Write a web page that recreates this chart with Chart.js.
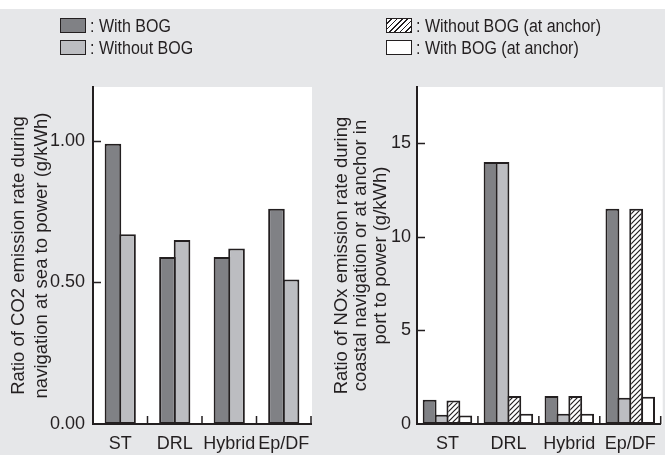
<!DOCTYPE html>
<html>
<head>
<meta charset="utf-8">
<script src="https://cdn.jsdelivr.net/npm/chart.js@4.4.1/dist/chart.umd.min.js"></script>
<style>
  html, body { margin: 0; padding: 0; background: #ffffff; }
  #page { position: relative; width: 665px; height: 455px; overflow: hidden; background: #ffffff; }
  #bg { position: absolute; left: 0; top: 9px; width: 665px; height: 446px; background: #e6e7e9; }
  canvas { position: absolute; top: 0; }
  .lg { position: absolute; font-family: "Liberation Sans", Arial, sans-serif; font-size: 16px; color: #231f20; line-height: 16px; white-space: nowrap; transform: scaleY(1.15); transform-origin: left center; }
  .box { position: absolute; width: 24px; height: 13px; border: 1.5px solid #231f20; }
</style>
</head>
<body>
<div id="page">
  <div id="bg"></div>
  <canvas id="c1" width="335" height="455" style="left:0px;width:335px;height:455px"></canvas>
  <canvas id="c2" width="350" height="455" style="left:315px;width:350px;height:455px"></canvas>
  <div id="legend"></div>
</div>
<script>
// ---- data ----
const categories = ['ST', 'DRL', 'Hybrid', 'Ep/DF'];
const co2WithBOG = [0.99, 0.59, 0.59, 0.76];
const co2WithoutBOG = [0.67, 0.65, 0.62, 0.51];
const noxWithBOG = [1.3, 14.0, 1.5, 11.5];
const noxWithoutBOG = [0.5, 14.0, 0.55, 1.4];
const noxWithoutBOGAnchor = [1.25, 1.5, 1.5, 11.5];
const noxWithBOGAnchor = [0.45, 0.55, 0.55, 1.45];
const co2Ticks = [0, 0.5, 1.0];
const noxTicks = [0, 5, 10, 15];
const co2Max = 1.19;
const noxMax = 18;
const legendLabels = [': With BOG', ': Without BOG', ': Without BOG (at anchor)', ': With BOG (at anchor)'];

// ---- styles ----
const DARK = '#808185';
const LIGHT = '#bcbdc1';
const INK = '#231f20';
const FONT = '"Liberation Sans", Arial, sans-serif';

function hatchPattern() {
  const s = 5;
  const c = document.createElement('canvas');
  c.width = s; c.height = s;
  const g = c.getContext('2d');
  g.fillStyle = '#ffffff';
  g.fillRect(0, 0, s, s);
  g.strokeStyle = INK;
  g.lineWidth = 1.2;
  g.beginPath();
  g.moveTo(-1, s + 1); g.lineTo(s + 1, -1);
  g.moveTo(-1, 1); g.lineTo(1, -1);
  g.moveTo(s - 1, s + 1); g.lineTo(s + 1, s - 1);
  g.stroke();
  return g.createPattern(c, 'repeat');
}
const HATCH = hatchPattern();

// legend (HTML)
const legend = document.getElementById('legend');
const legendItems = [
  { x: 60, y: 18, fill: DARK },
  { x: 60, y: 40, fill: LIGHT },
  { x: 386, y: 18, fill: 'repeating-linear-gradient(135deg, #ffffff 0px, #ffffff 2.6px, #231f20 2.6px, #231f20 3.8px)' },
  { x: 386, y: 40, fill: '#ffffff' }
];
legendItems.forEach((it, i) => {
  const b = document.createElement('div');
  b.className = 'box';
  b.style.left = it.x + 'px';
  b.style.top = it.y + 'px';
  b.style.background = it.fill;
  legend.appendChild(b);
  const t = document.createElement('div');
  t.className = 'lg';
  t.style.left = (it.x + 30) + 'px';
  t.style.top = (it.y) + 'px';
  t.textContent = legendLabels[i];
  legend.appendChild(t);
});

// plugin: white plot area + inward ticks
const plotDeco = {
  id: 'plotDeco',
  beforeDraw(chart, args, opts) {
    const { ctx, chartArea: a } = chart;
    ctx.save();
    ctx.fillStyle = '#ffffff';
    ctx.fillRect(a.left, a.top, a.right - a.left + (opts.extraRight || 0), a.bottom - a.top);
    ctx.restore();
  },
  afterDatasetsDraw(chart, args, opts) {
    const { ctx, chartArea: a } = chart;
    const xs = chart.scales.x, ys = chart.scales.y;
    ctx.save();
    ctx.strokeStyle = INK;
    ctx.lineWidth = 1.5;
    ctx.beginPath();
    ys.ticks.forEach(t => {
      if (t.value === 0) return;
      const y = Math.round(ys.getPixelForValue(t.value)) + 0.5;
      ctx.moveTo(a.left, y); ctx.lineTo(a.left + 8, y);
    });
    const n = categories.length;
    const half = (xs.getPixelForValue(1) - xs.getPixelForValue(0)) / 2;
    for (let i = 0; i < n; i++) {
      const x = xs.getPixelForValue(i) + half;
      ctx.moveTo(x, a.bottom); ctx.lineTo(x, a.bottom - 8);
    }
    ctx.stroke();
    ctx.restore();
  }
};

function barDS(label, data, color, bp, cp) {
  return {
    label, data,
    backgroundColor: color,
    borderColor: INK,
    borderWidth: 2,
    borderSkipped: false,
    barPercentage: bp,
    categoryPercentage: cp
  };
}

function makeChart(id, datasets, ticksArr, max, fmt, title, titleLH, titlePad, yWidth, padRight, tickPad, extraRight) {
  return new Chart(document.getElementById(id), {
    type: 'bar',
    data: { labels: categories, datasets },
    plugins: [plotDeco],
    options: {
      responsive: false,
      animation: false,
      devicePixelRatio: 1,
      layout: { padding: { top: 87, left: 0, right: padRight, bottom: 0 } },
      plugins: { legend: { display: false }, tooltip: { enabled: false }, plotDeco: { extraRight } },
      scales: {
        x: {
          grid: { display: false, drawTicks: false },
          border: { display: true, color: INK, width: 2 },
          ticks: { color: INK, font: { family: FONT, size: 18 }, padding: 9, maxRotation: 0, minRotation: 0, autoSkip: false },
          afterFit(s) { s.height = 31; }
        },
        y: {
          min: 0, max,
          grid: { display: false, drawTicks: false },
          border: { display: true, color: INK, width: 2 },
          afterBuildTicks(s) { s.ticks = ticksArr.map(v => ({ value: v })); },
          ticks: { color: INK, font: { family: FONT, size: 18 }, padding: tickPad, callback: fmt },
          title: {
            display: true, text: title, color: INK,
            font: { family: FONT, size: 18.5, lineHeight: titleLH },
            padding: { top: titlePad, bottom: 0 }
          },
          afterFit(s) { s.width = yWidth; }
        }
      }
    }
  });
}

makeChart('c1', [
  barDS('With BOG', co2WithBOG, DARK, 1.14, 0.535),
  barDS('Without BOG', co2WithoutBOG, LIGHT, 1.14, 0.535)
], co2Ticks, co2Max, v => Number(v).toFixed(2),
  ['Ratio of CO2 emission rate during', 'navigation at sea to power (g/kWh)'],
  1.25, 7, 93, 24, 8, 1);

makeChart('c2', [
  barDS('With BOG', noxWithBOG, DARK, 1.167, 0.78),
  barDS('Without BOG', noxWithoutBOG, LIGHT, 1.167, 0.78),
  barDS('Without BOG (at anchor)', noxWithoutBOGAnchor, HATCH, 1.167, 0.78),
  barDS('With BOG (at anchor)', noxWithBOGAnchor, '#ffffff', 1.167, 0.78)
], noxTicks, noxMax, v => String(v),
  ['Ratio of NOx emission rate during', 'coastal navigation or at anchor in', 'port to power (g/kWh)'],
  1.05, 17, 102, 2, 6, 2);
</script>
</body>
</html>
